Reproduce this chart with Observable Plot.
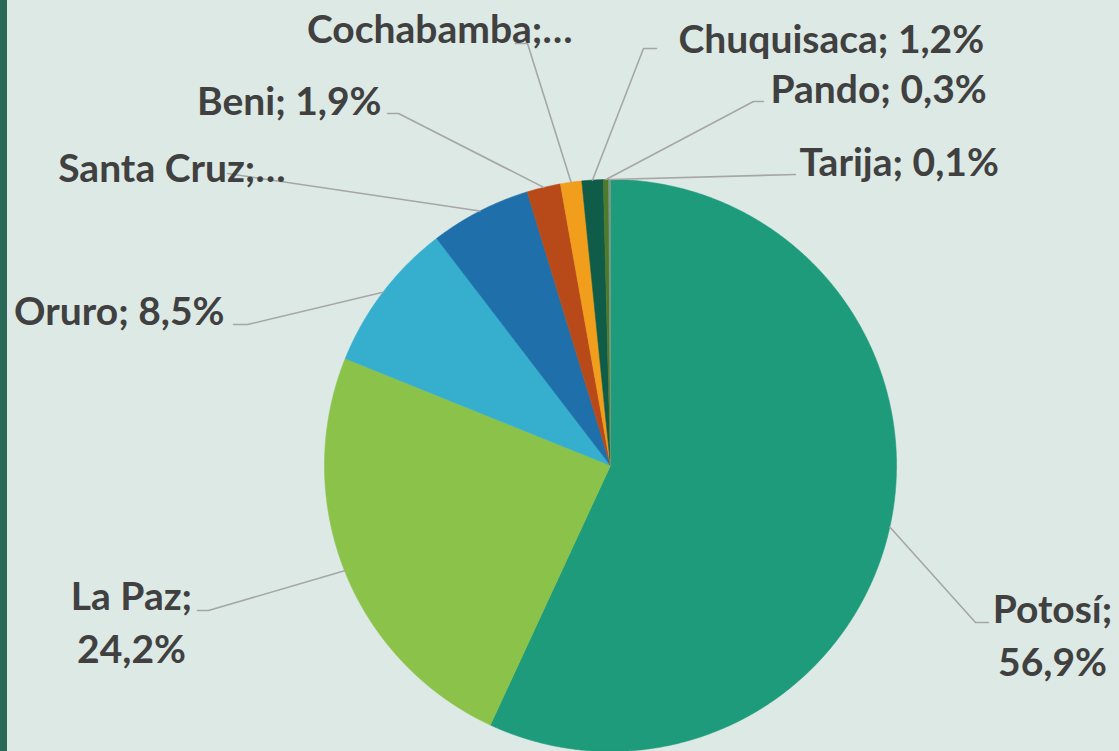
<!DOCTYPE html>
<html><head><meta charset="utf-8">
<script src="https://cdn.jsdelivr.net/npm/d3@7"></script>
<script src="https://cdn.jsdelivr.net/npm/@observablehq/plot@0.6"></script>
<style>
html,body{margin:0;padding:0;background:#dde9e4;overflow:hidden}
#wrap{position:relative;width:1119px;height:751px}
#bar{position:absolute;left:0;top:0;width:7px;height:751px;background:#2a6a57;z-index:2}
#wrap svg{display:block}
</style></head><body><div id="wrap"><div id="bar"></div></div>
<script>
// ---- data ----
const departments = ["Potosí","La Paz","Oruro","Santa Cruz","Beni","Cochabamba","Chuquisaca","Pando","Tarija"];
const shares = [56.9, 24.2, 8.5, 5.7, 1.9, 1.2, 1.2, 0.3, 0.1];
const labelTexts = ["Potosí;\n56,9%","La Paz;\n24,2%","Oruro; 8,5%","Santa Cruz;…","Beni; 1,9%","Cochabamba;…","Chuquisaca; 1,2%","Pando; 0,3%","Tarija; 0,1%"];

// ---- styles / layout ----
const colors = ["#1e9b7a","#8bc34a","#36afcf","#1f70aa","#b84a1a","#f09e1c","#0f5d48","#4f7a2b","#7a9a88"];
const W = 1119, H = 751, CX = 610, CY = 465, R = 286;
// label placement (pixels) and leader path points from slice outward
const labelLayout = [
  {x:1052, y:675, anchor:"middle", leader:[[975,622],[988,622]]},
  {x:131,  y:662, anchor:"middle", leader:[[208,610],[197,610]]},
  {x:224,  y:324, anchor:"end",    leader:[[247,324],[233,324]]},
  {x:285,  y:181, anchor:"end",    leader:[[227,173]]},
  {x:381,  y:114, anchor:"end",    leader:[[398,113],[387,113]]},
  {x:572,  y:42,  anchor:"end",    leader:[[527,43],[515,43]]},
  {x:678,  y:52,  anchor:"start",  leader:[[643,48],[656,48]]},
  {x:770,  y:102, anchor:"start",  leader:[[753,101],[763,101]]},
  {x:799,  y:175, anchor:"start",  leader:[[795,174]]}
];
const ux = px => (px - CX) / R, uy = py => (py - CY) / R;

const arcs = d3.pie().sort(null).value(d => d)(shares);

const slicePts = [];
arcs.forEach((a, i) => {
  const name = departments[i];
  slicePts.push({name, x: 0, y: 0});
  const n = Math.max(2, Math.ceil((a.endAngle - a.startAngle) / 0.004));
  for (let k = 0; k <= n; k++) {
    const t = a.startAngle + (a.endAngle - a.startAngle) * k / n;
    slicePts.push({name, x: Math.sin(t), y: -Math.cos(t)});
  }
  slicePts.push({name, x: 0, y: 0});
});

const leaderPts = [];
arcs.forEach((a, i) => {
  const m = (a.startAngle + a.endAngle) / 2;
  leaderPts.push({i, x: Math.sin(m), y: -Math.cos(m)});
  labelLayout[i].leader.forEach(([px, py]) => leaderPts.push({i, x: ux(px), y: uy(py)}));
});

const labels = labelTexts.map((text, i) => ({text, x: ux(labelLayout[i].x), y: uy(labelLayout[i].y), anchor: labelLayout[i].anchor}));

const FS = 39;
const textOpts = anchor => ({
  filter: d => d.anchor === anchor,
  x: "x", y: "y", text: "text",
  textAnchor: anchor, lineAnchor: "bottom", lineHeight: 53/FS,
  fontSize: FS, fontWeight: 700, fontFamily: "Lato, 'Open Sans', sans-serif",
  fill: "#404040"
});

const chart = Plot.plot({
  width: W, height: H,
  margin: 0,
  style: {background: "#dde9e4", overflow: "visible"},
  x: {domain: [ux(0), ux(W)], range: [0, W], axis: null},
  y: {domain: [uy(0), uy(H)], range: [0, H], axis: null},
  color: {domain: departments, range: colors},
  marks: [
    Plot.line(slicePts, {x: "x", y: "y", z: "name", fill: "name", stroke: "name", strokeWidth: 0.6, curve: "linear"}),
    Plot.line(leaderPts, {x: "x", y: "y", z: "i", stroke: "#a6a6a6", strokeWidth: 1.6, curve: "linear"}),
    Plot.text(labels, textOpts("start")),
    Plot.text(labels, textOpts("middle")),
    Plot.text(labels, textOpts("end"))
  ]
});
document.getElementById("wrap").appendChild(chart);
</script></body></html>
